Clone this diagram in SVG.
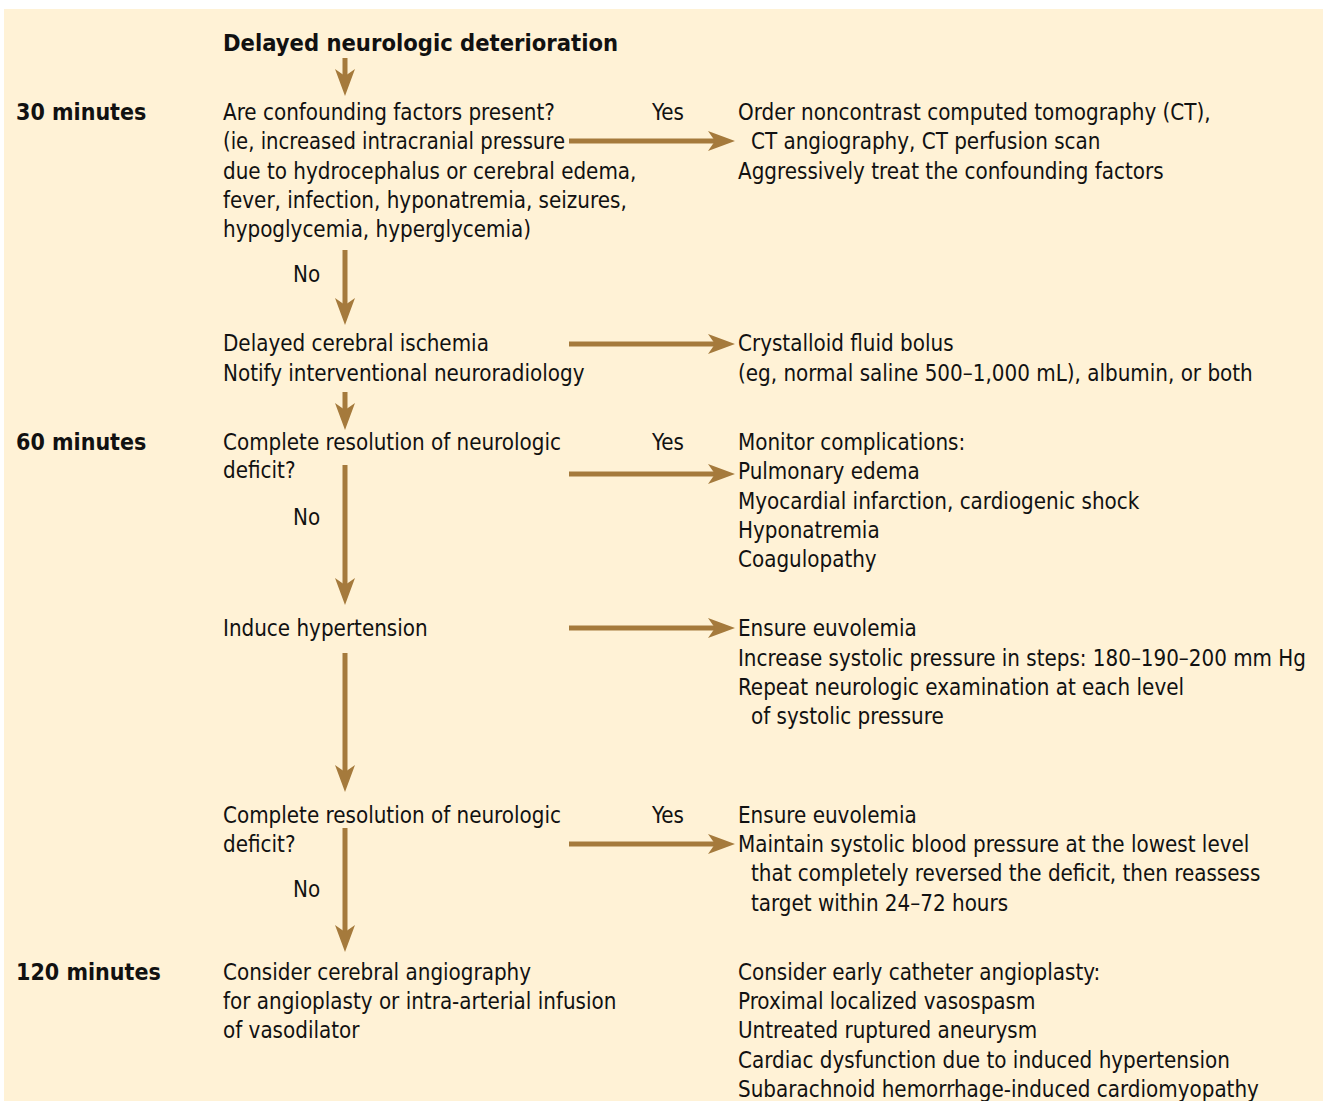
<svg xmlns="http://www.w3.org/2000/svg" width="1327" height="1101" viewBox="0 0 1327 1101">
<defs>
<style>
text{font-family:"Liberation Sans Narrow","DejaVu Sans Condensed","Liberation Sans",sans-serif;font-size:22.2px;fill:#111;}
.b{font-weight:bold;font-size:23px;}
.c{stroke:#A57A3C;stroke-width:5;fill:none;}
</style>
<marker id="ah" markerUnits="userSpaceOnUse" markerWidth="30" markerHeight="24" viewBox="-28 -12 30 24" refX="-14" refY="0" orient="auto">
<path d="M0,0 L-27,-10 L-20,0 L-27,10 Z" fill="#A57A3C"/>
</marker>
</defs>
<rect x="4" y="9" width="1319" height="1092" fill="#FFF2D6"/>
<g id="labels">
<text class="b" x="16" y="120">30 minutes</text>
<text class="b" x="16" y="450">60 minutes</text>
<text class="b" x="16" y="980">120 minutes</text>
</g>
<g id="start"><text class="b" x="223" y="51" textLength="395" lengthAdjust="spacingAndGlyphs">Delayed neurologic deterioration</text></g>
<g id="confounding">
<text x="223" y="120">Are confounding factors present?</text>
<text x="223" y="149" textLength="342" lengthAdjust="spacingAndGlyphs">(ie, increased intracranial pressure</text>
<text x="223" y="179">due to hydrocephalus or cerebral edema,</text>
<text x="223" y="208">fever, infection, hyponatremia, seizures,</text>
<text x="223" y="237">hypoglycemia, hyperglycemia)</text>
</g>
<g id="ct">
<text x="738" y="120">Order noncontrast computed tomography (CT),</text>
<text x="751" y="149">CT angiography, CT perfusion scan</text>
<text x="738" y="179">Aggressively treat the confounding factors</text>
</g>
<g id="dci">
<text x="223" y="351">Delayed cerebral ischemia</text>
<text x="223" y="381">Notify interventional neuroradiology</text>
</g>
<g id="bolus">
<text x="738" y="351">Crystalloid fluid bolus</text>
<text x="738" y="381">(eg, normal saline 500–1,000 mL), albumin, or both</text>
</g>
<g id="resolution1">
<text x="223" y="450">Complete resolution of neurologic</text>
<text x="223" y="478">deficit?</text>
</g>
<g id="monitor">
<text x="738" y="450">Monitor complications:</text>
<text x="738" y="479">Pulmonary edema</text>
<text x="738" y="509">Myocardial infarction, cardiogenic shock</text>
<text x="738" y="538">Hyponatremia</text>
<text x="738" y="567">Coagulopathy</text>
</g>
<g id="induce"><text x="223" y="636">Induce hypertension</text></g>
<g id="euvolemia1">
<text x="738" y="636">Ensure euvolemia</text>
<text x="738" y="666" textLength="568" lengthAdjust="spacingAndGlyphs">Increase systolic pressure in steps: 180–190–200 mm Hg</text>
<text x="738" y="695">Repeat neurologic examination at each level</text>
<text x="751" y="724">of systolic pressure</text>
</g>
<g id="resolution2">
<text x="223" y="823">Complete resolution of neurologic</text>
<text x="223" y="852">deficit?</text>
</g>
<g id="euvolemia2">
<text x="738" y="823">Ensure euvolemia</text>
<text x="738" y="852">Maintain systolic blood pressure at the lowest level</text>
<text x="751" y="881">that completely reversed the deficit, then reassess</text>
<text x="751" y="911">target within 24–72 hours</text>
</g>
<g id="angiography">
<text x="223" y="980">Consider cerebral angiography</text>
<text x="223" y="1009">for angioplasty or intra-arterial infusion</text>
<text x="223" y="1038">of vasodilator</text>
</g>
<g id="angioplasty">
<text x="738" y="980">Consider early catheter angioplasty:</text>
<text x="738" y="1009">Proximal localized vasospasm</text>
<text x="738" y="1038">Untreated ruptured aneurysm</text>
<text x="738" y="1068">Cardiac dysfunction due to induced hypertension</text>
<text x="738" y="1097">Subarachnoid hemorrhage-induced cardiomyopathy</text>
</g>
<g id="connectors">
<line class="c" x1="345" y1="58" x2="345" y2="82" marker-end="url(#ah)"/>
<line class="c" x1="345" y1="250" x2="345" y2="311" marker-end="url(#ah)"/>
<line class="c" x1="345" y1="392" x2="345" y2="416" marker-end="url(#ah)"/>
<line class="c" x1="345" y1="465" x2="345" y2="591" marker-end="url(#ah)"/>
<line class="c" x1="345" y1="653" x2="345" y2="778" marker-end="url(#ah)"/>
<line class="c" x1="345" y1="828" x2="345" y2="938" marker-end="url(#ah)"/>
<line class="c" x1="569" y1="141" x2="721" y2="141" marker-end="url(#ah)"/>
<line class="c" x1="569" y1="344" x2="721" y2="344" marker-end="url(#ah)"/>
<line class="c" x1="569" y1="474" x2="721" y2="474" marker-end="url(#ah)"/>
<line class="c" x1="569" y1="628" x2="721" y2="628" marker-end="url(#ah)"/>
<line class="c" x1="569" y1="844" x2="721" y2="844" marker-end="url(#ah)"/>
<text x="652" y="120">Yes</text>
<text x="652" y="450">Yes</text>
<text x="652" y="823">Yes</text>
<text x="293" y="282">No</text>
<text x="293" y="525">No</text>
<text x="293" y="897">No</text>
</g>
</svg>
